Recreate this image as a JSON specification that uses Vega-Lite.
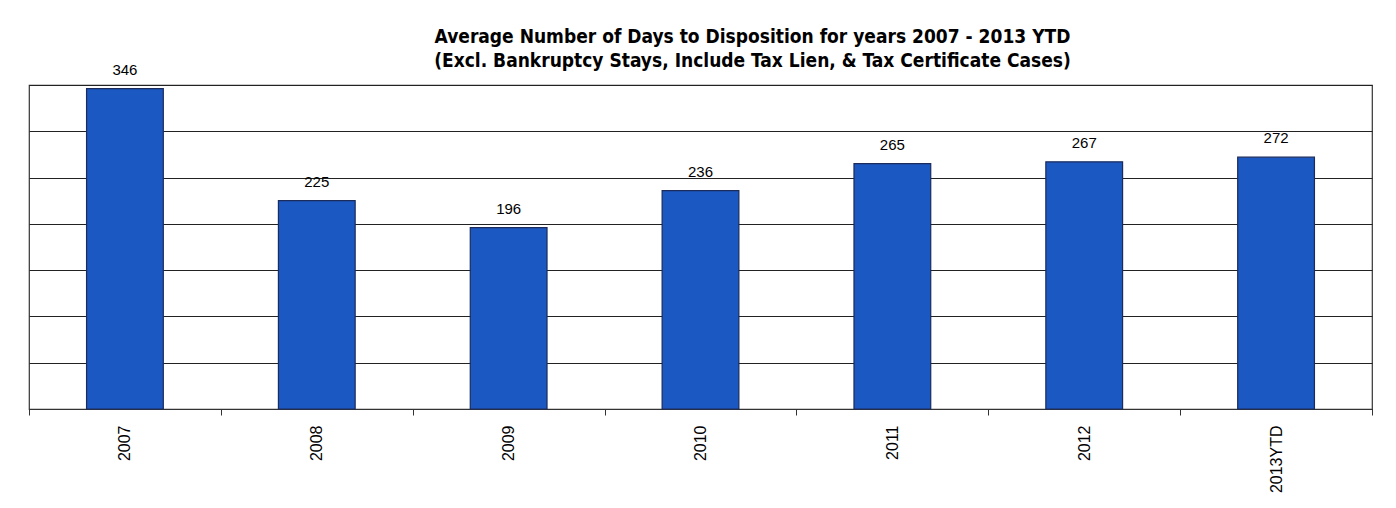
{
  "$schema": "https://vega.github.io/schema/vega-lite/v6.json",
  "width": 1343,
  "height": 324,
  "autosize": {"type": "none"},
  "padding": {"left": 29, "top": 85, "right": 24, "bottom": 99},
  "background": "white",
  "title": {
    "text": ["Average Number of Days to Disposition  for years 2007 - 2013 YTD", "(Excl. Bankruptcy Stays, Include Tax Lien, & Tax Certificate Cases)"],
    "anchor": "middle",
    "dx": 52,
    "offset": -8,
    "font": "DejaVu Sans Condensed, Liberation Sans, sans-serif",
    "fontSize": 19,
    "fontWeight": "bold",
    "color": "black",
    "lineHeight": 24
  },
  "data": {
    "values": [
      {"year": "2007", "days": 346},
      {"year": "2008", "days": 225},
      {"year": "2009", "days": 196},
      {"year": "2010", "days": 236},
      {"year": "2011", "days": 265},
      {"year": "2012", "days": 267},
      {"year": "2013YTD", "days": 272}
    ]
  },
  "encoding": {
    "x": {
      "field": "year",
      "type": "nominal",
      "sort": null,
      "title": null,
      "scale": {"paddingInner": 0, "paddingOuter": 0},
      "axis": {
        "labelAngle": -90,
        "labelAlign": "right",
        "labelBaseline": "middle",
        "labelFont": "Liberation Sans",
        "labelFontSize": 16,
        "labelColor": "black",
        "labelPadding": 10,
        "domainColor": "#333333",
        "tickColor": "#333333",
        "tickBand": "extent",
        "tickSize": 6,
        "grid": false
      }
    },
    "y": {
      "field": "days",
      "type": "quantitative",
      "title": null,
      "scale": {"domain": [0, 350], "nice": false},
      "axis": {
        "values": [0, 50, 100, 150, 200, 250, 300, 350],
        "labels": false,
        "ticks": false,
        "domain": false,
        "grid": true,
        "gridColor": "#222222",
        "gridWidth": 1.2,
        "gridOpacity": 1
      }
    }
  },
  "layer": [
    {
      "mark": {"type": "bar", "width": {"band": 0.4}, "color": "#1C58C2", "stroke": "#1a2b5c", "strokeWidth": 1.2}
    },
    {
      "mark": {"type": "text", "dy": -11, "font": "Liberation Sans", "fontSize": 15, "color": "black", "baseline": "bottom"},
      "encoding": {"text": {"field": "days", "type": "quantitative"}}
    }
  ],
  "config": {
    "view": {"stroke": "#333333", "strokeWidth": 1.2}
  }
}
